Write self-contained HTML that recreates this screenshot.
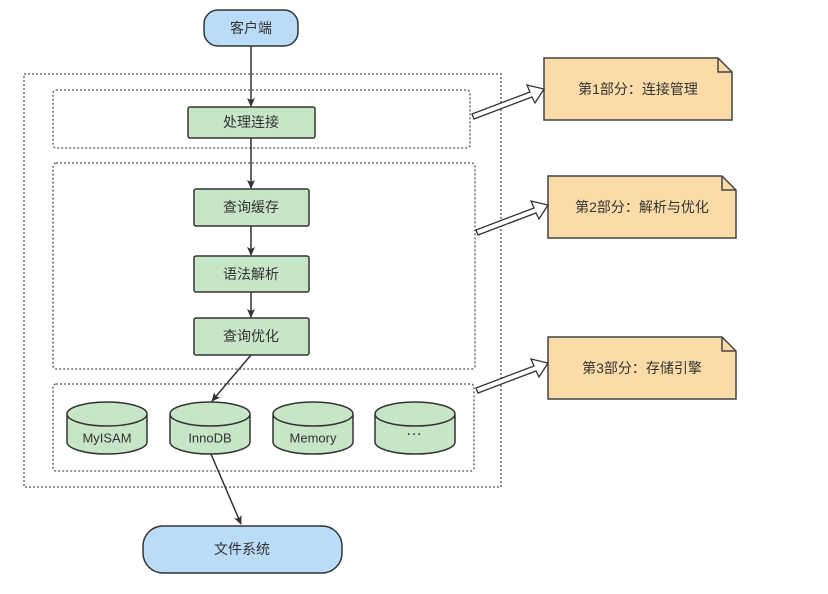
<!DOCTYPE html>
<html><head><meta charset="utf-8"><style>
body{margin:0;background:#fff}
text{font-family:"Liberation Sans","Noto Sans CJK SC",sans-serif;font-size:14px;fill:#333;text-anchor:middle;dominant-baseline:central}
</style></head><body>
<svg width="828" height="589" viewBox="0 0 828 589" xmlns="http://www.w3.org/2000/svg">
<defs><marker id="a" markerWidth="10" markerHeight="10" refX="8" refY="5" orient="auto" markerUnits="userSpaceOnUse"><path d="M0,1 L9,5 L0,9 L2,5 Z" fill="#333"/></marker></defs>
<g fill="none" stroke="#555" stroke-width="1.3" stroke-dasharray="2,2">
<rect x="24" y="74" width="477" height="413"/>
<rect x="53" y="90" width="417" height="58" rx="3"/>
<rect x="53" y="163" width="422" height="206" rx="3"/>
<rect x="53" y="384" width="421" height="87" rx="3"/>
</g>
<rect x="204" y="10" width="94" height="36" rx="14" fill="#bbdcf8" stroke="#333" stroke-width="1.5"/>
<text x="251" y="28">客户端</text>
<g stroke="#333" stroke-width="1.5" marker-end="url(#a)">
<line x1="251" y1="46" x2="251" y2="106"/>
<line x1="251" y1="138" x2="251" y2="188"/>
<line x1="251" y1="226" x2="251" y2="255"/>
<line x1="251" y1="292" x2="251" y2="317"/>
<line x1="251" y1="355" x2="212" y2="401"/>
<line x1="211" y1="454" x2="241" y2="524"/>
</g>
<g fill="#c7e6c7" stroke="#333" stroke-width="1.5">
<rect x="188" y="107" width="127" height="31" rx="2"/>
<rect x="194" y="189" width="115" height="37" rx="2"/>
<rect x="194" y="256" width="115" height="36" rx="2"/>
<rect x="194" y="318" width="115" height="37" rx="2"/>
</g>
<text x="251" y="122">处理连接</text>
<text x="251" y="207">查询缓存</text>
<text x="251" y="274">语法解析</text>
<text x="251" y="336">查询优化</text>
<g fill="#c7e6c7" stroke="#333" stroke-width="1.5">
<path d="M67,414 L67,442 A40,12 0 0 0 147,442 L147,414 A40,12 0 0 0 67,414 Z M67,414 A40,12 0 0 0 147,414"/>
<path d="M170,414 L170,442 A40,12 0 0 0 250,442 L250,414 A40,12 0 0 0 170,414 Z M170,414 A40,12 0 0 0 250,414"/>
<path d="M273,414 L273,442 A40,12 0 0 0 353,442 L353,414 A40,12 0 0 0 273,414 Z M273,414 A40,12 0 0 0 353,414"/>
<path d="M375,414 L375,442 A40,12 0 0 0 455,442 L455,414 A40,12 0 0 0 375,414 Z M375,414 A40,12 0 0 0 455,414"/>
</g>
<text x="107" y="438" style="font-size:13px">MyISAM</text>
<text x="210" y="438" style="font-size:13px">InnoDB</text>
<text x="313" y="438" style="font-size:13px">Memory</text>
<text x="414" y="434" style="font-size:16px">···</text>
<rect x="143" y="526" width="199" height="47" rx="20" fill="#bbdcf8" stroke="#333" stroke-width="1.5"/>
<text x="242" y="549">文件系统</text>
<g fill="#fbdca9" stroke="#444" stroke-width="1.5">
<path d="M544,58 H718 L732,72 V120 H544 Z"/><path d="M718,58 V72 H732" fill="none"/>
<path d="M548,176 H722 L736,190 V238 H548 Z"/><path d="M722,176 V190 H736" fill="none"/>
<path d="M548,337 H722 L736,351 V399 H548 Z"/><path d="M722,337 V351 H736" fill="none"/>
</g>
<text x="638" y="89">第1部分：连接管理</text>
<text x="642" y="207">第2部分：解析与优化</text>
<text x="642" y="368">第3部分：存储引擎</text>
<g fill="#fff" stroke="#333" stroke-width="1.3">
<path d="M472,114 L530,92 L527,85 L544,89 L535,103 L532,97 L474,119 Z"/>
<path d="M476,230 L534,208 L531,201 L548,205 L539,219 L536,213 L478,235 Z"/>
<path d="M476,388 L534,366 L531,359 L548,363 L539,377 L536,371 L478,393 Z"/>
</g>
</svg>
</body></html>
